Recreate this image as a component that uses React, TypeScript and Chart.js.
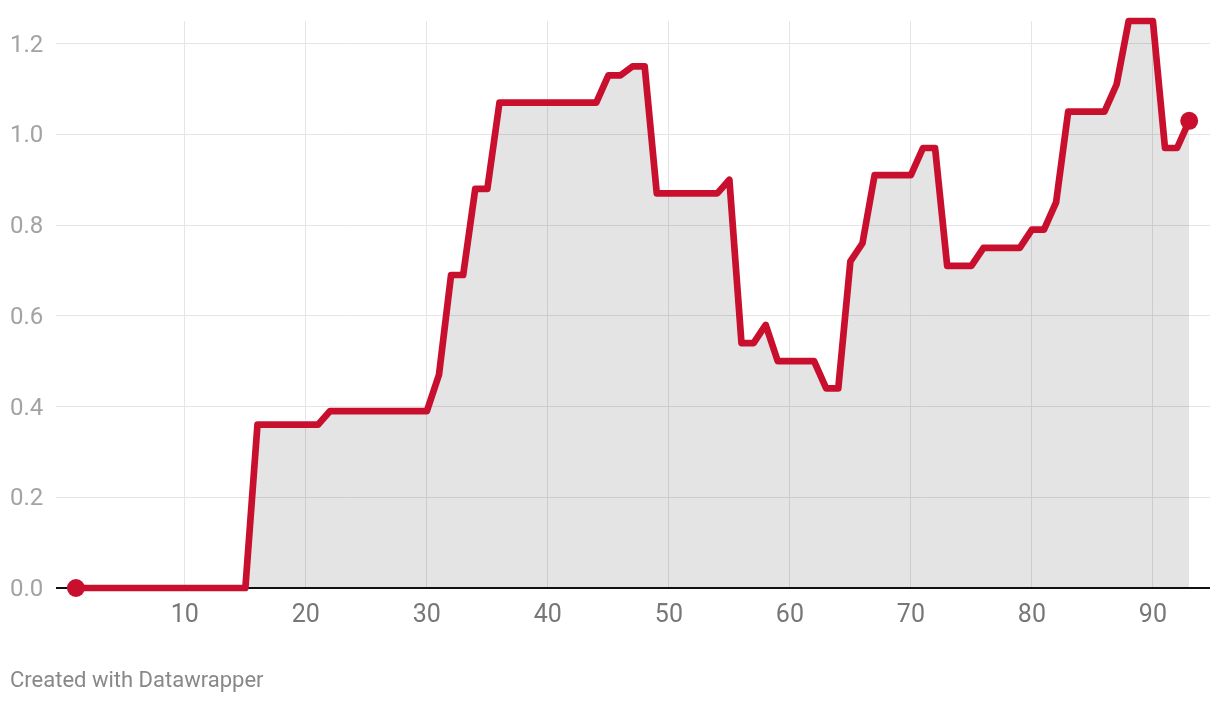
import React, { useEffect, useRef } from "react";
import { Chart, registerables } from "chart.js";

Chart.register(...registerables);

// Series values, one per x position starting at 1
const values: number[] = [
  0, 0, 0, 0, 0, 0, 0, 0, 0, 0, 0, 0, 0, 0, 0,
  0.36, 0.36, 0.36, 0.36, 0.36, 0.36,
  0.39, 0.39, 0.39, 0.39, 0.39, 0.39, 0.39, 0.39, 0.39,
  0.47, 0.69, 0.69, 0.88, 0.88,
  1.07, 1.07, 1.07, 1.07, 1.07, 1.07, 1.07, 1.07, 1.07,
  1.13, 1.13, 1.15, 1.15,
  0.87, 0.87, 0.87, 0.87, 0.87, 0.87,
  0.9, 0.54, 0.54, 0.58,
  0.5, 0.5, 0.5, 0.5,
  0.44, 0.44, 0.72, 0.76,
  0.91, 0.91, 0.91, 0.91,
  0.97, 0.97,
  0.71, 0.71, 0.71,
  0.75, 0.75, 0.75, 0.75,
  0.79, 0.79, 0.85,
  1.05, 1.05, 1.05, 1.05,
  1.11, 1.25, 1.25, 1.25,
  0.97, 0.97, 1.03,
];
const xPositions: number[] = values.map((_, i) => i + 1);

const xTicks: number[] = [10, 20, 30, 40, 50, 60, 70, 80, 90];
const yTicks: number[] = [0, 0.2, 0.4, 0.6, 0.8, 1.0, 1.2];
const footerText = "Created with Datawrapper";

const RED = "#c8102e";

export default function App() {
  const ref = useRef<HTMLCanvasElement | null>(null);

  useEffect(() => {
    if (!ref.current) return;
    const last = values.length - 1;
    const chart = new Chart(ref.current, {
      type: "line",
      data: {
        datasets: [
          {
            data: values.map((v, i) => ({ x: xPositions[i], y: v })),
            borderColor: RED,
            borderWidth: 6.7,
            borderJoinStyle: "round",
            backgroundColor: "rgba(0,0,0,0.105)",
            fill: "origin",
            tension: 0,
            clip: false as any,
            pointRadius: (ctx: any) =>
              ctx.dataIndex === 0 || ctx.dataIndex === last ? 9 : 0,
            pointHoverRadius: 0,
            pointBackgroundColor: RED,
            pointBorderWidth: 0,
          },
        ],
      },
      options: {
        animation: false,
        responsive: true,
        maintainAspectRatio: false,
        layout: {
          autoPadding: false,
          padding: { left: 2, right: 2, top: 13, bottom: 0 },
        },
        plugins: {
          legend: { display: false },
          tooltip: { enabled: false },
          title: {
            display: true,
            text: footerText,
            position: "bottom",
            align: "start",
            color: "#888888",
            font: { family: "Roboto", size: 22, weight: "normal" },
            padding: { top: 43, bottom: 3.6 },
          },
        },
        scales: {
          x: {
            type: "linear",
            min: -0.65,
            max: 94.72,
            afterBuildTicks: (scale: any) => {
              scale.ticks = xTicks.map((v) => ({ value: v }));
            },
            afterFit: (scale: any) => {
              scale.height = 37;
              scale.paddingLeft = 0;
              scale.paddingRight = 0;
            },
            grid: { color: "#e5e5e5", lineWidth: 1, drawTicks: false },
            border: { display: false },
            ticks: {
              color: "#777777",
              font: { family: "Roboto", size: 25 },
              padding: 13,
              maxRotation: 0,
              callback: (v: any) => String(v),
            },
          },
          y: {
            min: 0,
            max: 1.25,
            afterBuildTicks: (scale: any) => {
              scale.ticks = yTicks.map((v) => ({ value: v }));
            },
            afterFit: (scale: any) => {
              scale.width = 46;
              scale.paddingTop = 0;
              scale.paddingBottom = 0;
            },
            grid: {
              color: (ctx: any) =>
                ctx.tick && ctx.tick.value === 0 ? "#111111" : "#e5e5e5",
              lineWidth: (ctx: any) =>
                ctx.tick && ctx.tick.value === 0 ? 2 : 1,
              drawTicks: false,
            },
            border: { display: false },
            ticks: {
              color: "#a3a3a3",
              font: { family: "Roboto", size: 24 },
              crossAlign: "far",
              padding: 0,
              labelOffset: 2,
              callback: (v: any) => Number(v).toFixed(1),
            },
          },
        },
      },
    });
    return () => chart.destroy();
  }, []);

  return (
    <div style={{ position: "relative", width: 1204, height: 690 }}>
      <canvas ref={ref} />
    </div>
  );
}
